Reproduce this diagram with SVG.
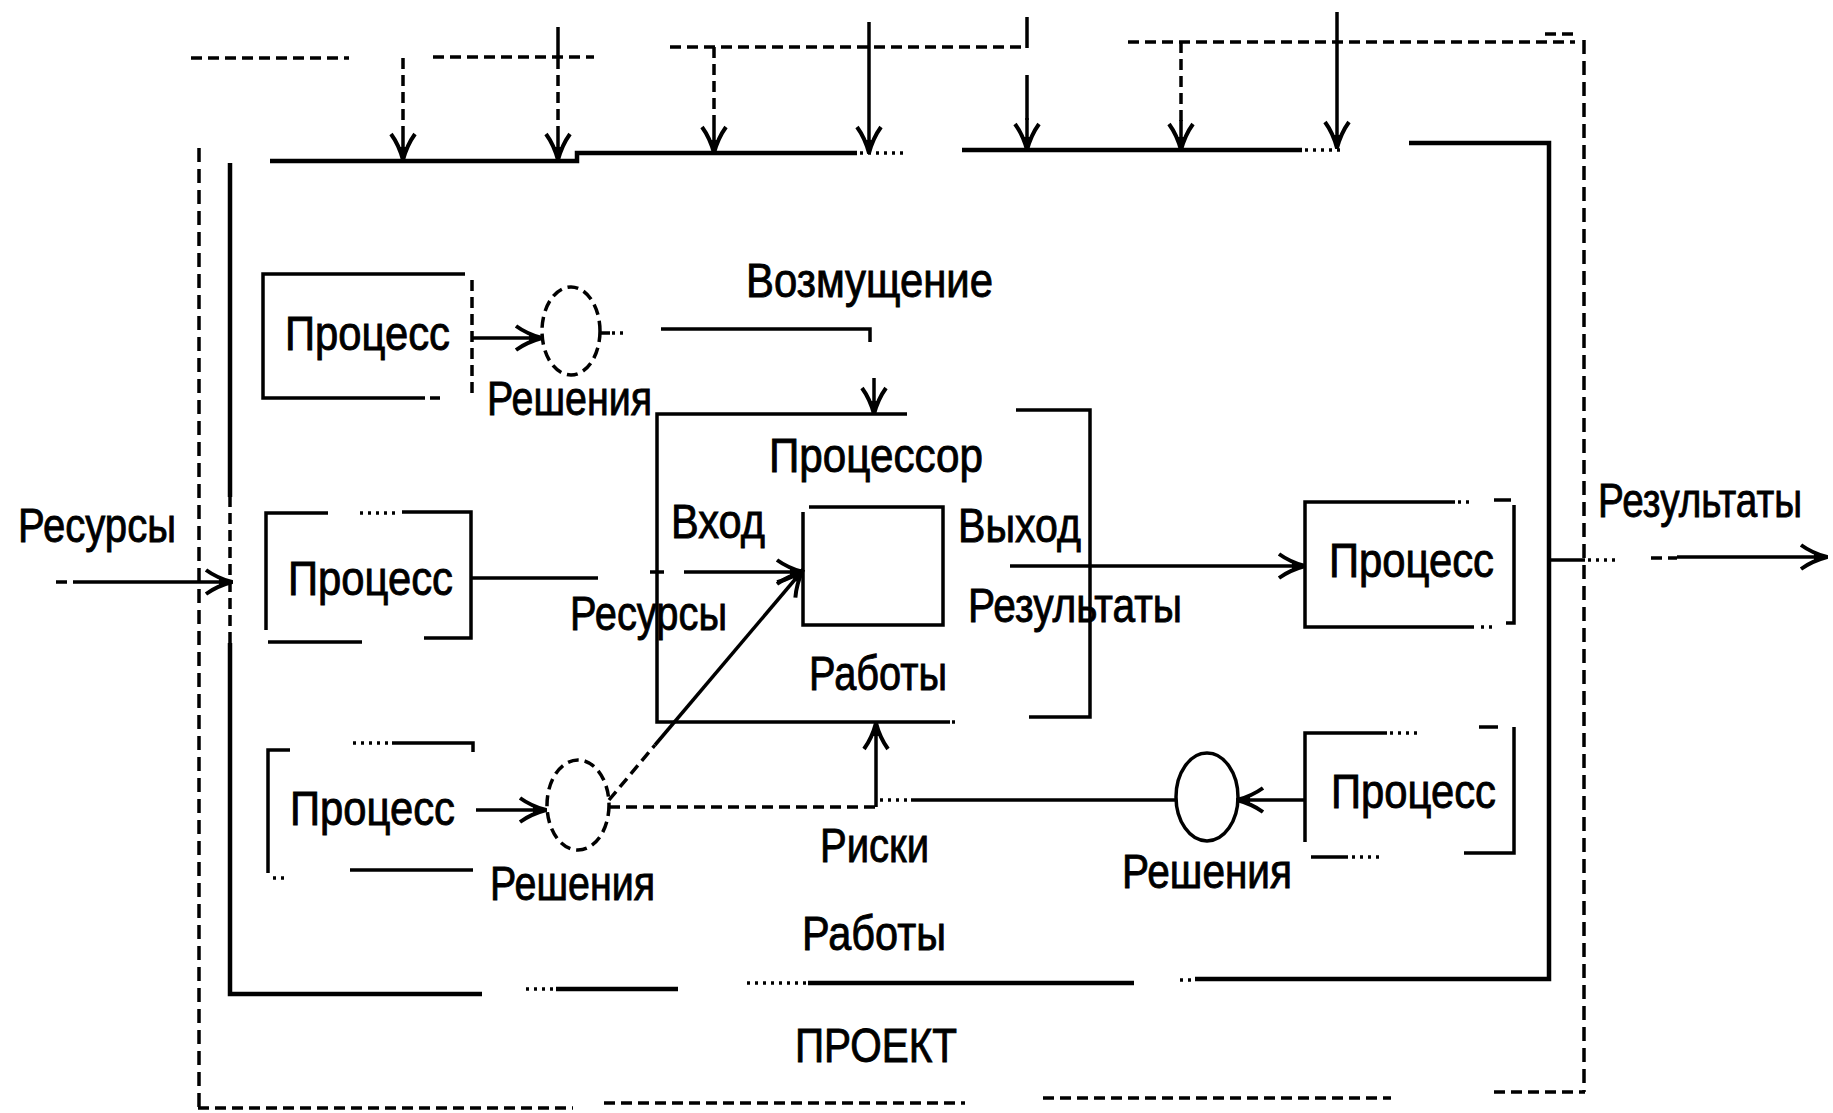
<svg xmlns="http://www.w3.org/2000/svg" width="1833" height="1113" viewBox="0 0 1833 1113">
<style>
.ln{stroke:#000;stroke-width:3.5;fill:none;stroke-linecap:butt}
.th{stroke-width:4.5}
.dsh{stroke-dasharray:11 6}
.dl{stroke-dasharray:14 7}
.dot{stroke-dasharray:3 5}
.t{font-family:"Liberation Sans","DejaVu Sans",sans-serif;fill:#000;stroke:#000;stroke-width:0.9;font-size:48px}
</style>
<defs>
<marker id="ah" viewBox="0 0 30 30" refX="29" refY="15" markerWidth="30" markerHeight="30" markerUnits="userSpaceOnUse" orient="auto">
<path d="M3,3 Q14,11 29,15 Q14,19 3,27" fill="none" stroke="#000" stroke-width="4"/>
<path d="M16,9.5 L29,15 L16,20.5 Z" fill="#000"/>
</marker>
</defs>
<rect width="1833" height="1113" fill="#fff"/>

<g id="frame">
<path class="ln dsh" d="M191,58 H349 M433,57 H594 M670,47 H1023 M1128,42 H1575 M1545,34 H1575"/>
<path class="ln dl" d="M199,148 V1108 M1584,40 V1092"/>
<path class="ln dsh" d="M198,1108 H573 M604,1103 H965 M1043,1098 H1391 M1494,1092 H1585"/>
</g>

<g id="connectors">
<path class="ln th" d="M270,161 H577 V153 H857"/>
<path class="ln dot" d="M860,153 H903"/>
<path class="ln th" d="M962,150 H1302"/>
<path class="ln dot" d="M1305,150 H1340"/>
<path class="ln th" d="M1409,143 H1549 V979 H1195"/>
<path class="ln dot" d="M1180,980 H1195"/>
<path class="ln th" d="M1134,983 H808"/>
<path class="ln dot" d="M806,983 H744"/>
<path class="ln th" d="M678,989 H556"/>
<path class="ln dot" d="M553,989 H525"/>
<path class="ln th" d="M482,994 H230 V643"/>
<path class="ln dsh" d="M230,643 V497"/>
<path class="ln th" d="M230,497 V163"/>
<path class="ln dsh" d="M403,58 V130"/><path class="ln" d="M403,130 V160" marker-end="url(#ah)"/>
<path class="ln" d="M558,27 V58"/><path class="ln dsh" d="M558,58 V130"/><path class="ln" d="M558,130 V160" marker-end="url(#ah)"/>
<path class="ln dsh" d="M714,47 V125"/><path class="ln" d="M714,125 V153" marker-end="url(#ah)"/>
<path class="ln" d="M869,22 V153" marker-end="url(#ah)"/>
<path class="ln" d="M1027,17 V48 M1027,75 V120"/><path class="ln" d="M1027,118 V150" marker-end="url(#ah)"/>
<path class="ln dsh" d="M1181,42 V122"/><path class="ln" d="M1181,120 V150" marker-end="url(#ah)"/>
<path class="ln" d="M1337,12 V148" marker-end="url(#ah)"/>
<path class="ln dsh" d="M56,582 H78"/>
<path class="ln" d="M78,582 H232" marker-end="url(#ah)"/>
<path class="ln" d="M472,338 H542" marker-end="url(#ah)"/>
<path class="ln" d="M600,333 H610"/><path class="ln dot" d="M612,333 H628"/>
<path class="ln" d="M661,329 H870 V342"/>
<path class="ln" d="M874,378 V414" marker-end="url(#ah)"/>
<path class="ln" d="M471,578 H598"/>
<path class="ln" d="M650,572 H664"/>
<path class="ln" d="M684,572 H803" marker-end="url(#ah)"/>
<path class="ln dsh" d="M609,800 L655,745"/>
<path class="ln" d="M655,745 L803,570" marker-end="url(#ah)"/>
<path class="ln" d="M1010,566 H1305" marker-end="url(#ah)"/>
<path class="ln" d="M476,810 H546" marker-end="url(#ah)"/>
<path class="ln dsh" d="M609,807 H876"/>
<path class="ln" d="M876,807 V723" marker-end="url(#ah)"/>
<path class="ln dot" d="M880,800 H910"/>
<path class="ln" d="M911,800 H1176"/>
<path class="ln" d="M1305,800 H1237" marker-end="url(#ah)"/>
<path class="ln" d="M1549,560 H1585"/><path class="ln dot" d="M1588,560 H1615"/>
<path class="ln dsh" d="M1651,558 H1677"/>
<path class="ln" d="M1677,557 H1827" marker-end="url(#ah)"/>
</g>

<g id="process1">
<path class="ln" d="M465,274 H263 V398 H425"/>
<path class="ln dsh" d="M430,398 H440 M472,280 V398"/>
<text class="t" x="285" y="350" font-size="50" textLength="165" lengthAdjust="spacingAndGlyphs">Процесс</text>
</g>
<g id="decision1">
<ellipse class="ln dsh" cx="571" cy="331" rx="29" ry="44"/>
<text class="t" x="487" y="415" font-size="46" textLength="165" lengthAdjust="spacingAndGlyphs">Решения</text>
</g>
<g id="process2">
<path class="ln" d="M328,513 H266 V630 M268,642 H362 M402,512 H471 V638 H424"/>
<path class="ln dot" d="M360,513 H400"/>
<text class="t" x="288" y="595" font-size="50" textLength="165" lengthAdjust="spacingAndGlyphs">Процесс</text>
</g>
<g id="process3">
<path class="ln" d="M290,750 H268 V873 M392,743 H473 V752 M350,870 H473"/>
<path class="ln dot" d="M353,743 H388 M273,878 H288"/>
<text class="t" x="290" y="825" font-size="52" textLength="165" lengthAdjust="spacingAndGlyphs">Процесс</text>
</g>
<g id="decision3">
<ellipse class="ln dsh" cx="578" cy="805" rx="31" ry="45"/>
<text class="t" x="490" y="900" font-size="46" textLength="165" lengthAdjust="spacingAndGlyphs">Решения</text>
</g>
<g id="processor">
<path class="ln" d="M907,414 H657 V722 H950"/>
<path class="ln dot" d="M952,722 H960"/>
<path class="ln" d="M1016,410 H1090 V717 H1029"/>
<path class="ln" d="M809,507 H943 V625 H803 V512"/>
<text class="t" x="769" y="472" font-size="42" textLength="214" lengthAdjust="spacingAndGlyphs">Процессор</text>
<text class="t" x="671" y="538" font-size="44" textLength="94" lengthAdjust="spacingAndGlyphs">Вход</text>
<text class="t" x="958" y="542" font-size="46" textLength="123" lengthAdjust="spacingAndGlyphs">Выход</text>
<text class="t" x="570" y="630" font-size="42" textLength="157" lengthAdjust="spacingAndGlyphs">Ресурсы</text>
<text class="t" x="968" y="622" font-size="44" textLength="214" lengthAdjust="spacingAndGlyphs">Результаты</text>
<text class="t" x="809" y="690" font-size="44" textLength="138" lengthAdjust="spacingAndGlyphs">Работы</text>
</g>
<g id="process4">
<path class="ln" d="M1455,502 H1305 V627 H1474 M1494,500 H1511 M1514,505 V623 H1506"/>
<path class="ln dot" d="M1458,502 H1470 M1481,627 H1494"/>
<text class="t" x="1329" y="577" font-size="46" textLength="165" lengthAdjust="spacingAndGlyphs">Процесс</text>
</g>
<g id="process5">
<path class="ln" d="M1387,733 H1305 V842 M1311,857 H1348 M1479,727 H1498 M1514,727 V853 H1464"/>
<path class="ln dot" d="M1390,733 H1422 M1352,857 H1380"/>
<text class="t" x="1331" y="808" font-size="46" textLength="165" lengthAdjust="spacingAndGlyphs">Процесс</text>
</g>
<g id="decision5">
<ellipse class="ln" cx="1207" cy="797" rx="31" ry="44"/>
<text class="t" x="1122" y="888" font-size="48" textLength="170" lengthAdjust="spacingAndGlyphs">Решения</text>
</g>
<g id="labels">
<text class="t" x="18" y="542" font-size="50" textLength="158" lengthAdjust="spacingAndGlyphs">Ресурсы</text>
<text class="t" x="746" y="297" font-size="48" textLength="247" lengthAdjust="spacingAndGlyphs">Возмущение</text>
<text class="t" x="1598" y="517" font-size="40" textLength="204" lengthAdjust="spacingAndGlyphs">Результаты</text>
<text class="t" x="820" y="862" font-size="42" textLength="109" lengthAdjust="spacingAndGlyphs">Риски</text>
<text class="t" x="802" y="950" font-size="46" textLength="144" lengthAdjust="spacingAndGlyphs">Работы</text>
<text class="t" x="795" y="1062" font-size="56" textLength="162" lengthAdjust="spacingAndGlyphs">ПРОЕКТ</text>
</g>
</svg>
